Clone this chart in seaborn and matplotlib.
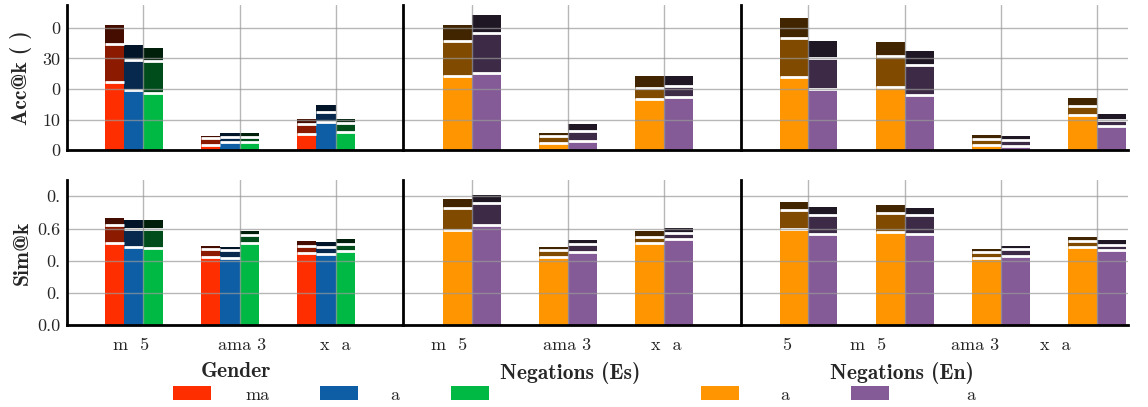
import pandas as pd
import seaborn as sns
import matplotlib.pyplot as plt
from matplotlib.patches import Patch
from matplotlib.transforms import ScaledTranslation

# Kategorien (so wie sie im Bild erscheinen)
gender_models = ['m  5', 'ama 3', 'x  a']
es_models = ['m  5', 'ama 3', 'x  a']
en_models = ['5', 'm  5', 'ama 3', 'x  a']
levels = ['1', '5', '10']

# Acc@k -- je Serie: [k=1], [k=5], [k=10]
acc_gender_red = [[22.3, 1.8, 5.4], [34.7, 3.9, 8.5], [41.0, 4.7, 10.1]]
acc_gender_blue = [[19.8, 2.6, 9.1], [29.6, 4.4, 12.4], [34.5, 5.5, 14.7]]
acc_gender_green = [[18.8, 2.7, 5.9], [29.3, 4.4, 8.8], [33.5, 5.5, 10.1]]
acc_es_orange = [[24.1, 2.2, 16.8], [35.7, 4.7, 20.3], [41.0, 5.5, 24.4]]
acc_es_purple = [[25.3, 3.0, 17.3], [38.4, 6.4, 21.1], [44.3, 8.5, 24.1]]
acc_en_orange = [[23.9, 20.8, 1.7, 11.5], [36.8, 30.8, 3.6, 14.4], [43.3, 35.5, 4.9, 16.9]]
acc_en_purple = [[20.1, 18.0, 1.4, 7.8], [30.2, 27.9, 3.4, 9.9], [35.8, 32.6, 4.7, 11.7]]

# Sim@k
sim_gender_red = [[0.509, 0.422, 0.447], [0.619, 0.472, 0.492], [0.665, 0.492, 0.524]]
sim_gender_blue = [[0.484, 0.420, 0.441], [0.598, 0.466, 0.484], [0.654, 0.486, 0.517]]
sim_gender_green = [[0.478, 0.513, 0.463], [0.600, 0.561, 0.505], [0.654, 0.586, 0.536]]
sim_es_orange = [[0.588, 0.426, 0.511], [0.727, 0.466, 0.548], [0.785, 0.486, 0.586]]
sim_es_purple = [[0.623, 0.453, 0.534], [0.758, 0.503, 0.573], [0.809, 0.530, 0.604]]
sim_en_orange = [[0.598, 0.578, 0.418, 0.488], [0.714, 0.696, 0.453, 0.522], [0.766, 0.747, 0.474, 0.548]]
sim_en_purple = [[0.569, 0.567, 0.430, 0.470], [0.683, 0.681, 0.472, 0.500], [0.735, 0.729, 0.492, 0.530]]

acc_ticks = [0, 10, 20, 30, 40]
acc_ticklabels = ['0', '10', '0', '30', '0']
sim_ticks = [0.0, 0.2, 0.4, 0.6, 0.8]
sim_ticklabels = ['0.0', '0.', '0.', '0.6', '0.']

legend_labels = ['ma', 'a', '', 'a', 'a']

# Farben je Serie: k=1 (hell), k=5 (mittel), k=10 (dunkel)
colors = {
    'red': ['#FF2E00', '#8C1A00', '#450D00'],
    'blue': ['#0E5EA6', '#06294D', '#021427'],
    'green': ['#00B945', '#004D1C', '#001F0B'],
    'orange': ['#FF9500', '#804B00', '#402500'],
    'purple': ['#845B97', '#3D2A46', '#1F1724'],
    'pad': ['#FFFFFF', '#FFFFFF', '#FFFFFF'],
}

sns.set_style('whitegrid')
plt.rcParams['font.family'] = ['cmr10', 'DejaVu Serif']
plt.rcParams['font.size'] = 13
plt.rcParams['axes.formatter.use_mathtext'] = True


def draw(ax, models, series, hue_order, width):
    rows = []
    for name, vals in series.items():
        for li, lvl in enumerate(levels):
            for m, v in zip(models, vals[li]):
                rows.append({'model': m, 'series': name, 'level': lvl, 'value': v})
    df = pd.DataFrame(rows)
    # von hinten (k=10) nach vorne (k=1) zeichnen
    for li in [2, 1, 0]:
        lvl = levels[li]
        pal = {h: colors[h][li] for h in hue_order}
        n0 = len(ax.patches)
        sns.barplot(data=df[df['level'] == lvl], x='model', y='value', hue='series',
                    order=models, hue_order=hue_order, palette=pal, width=width,
                    saturation=1, errorbar=None, legend=False, linewidth=0, ax=ax)
        if li < 2:
            # weiße Trennlinie oben auf den vorderen Balken
            for p in ax.patches[n0:]:
                if p.get_height() > 0:
                    ax.plot([p.get_x(), p.get_x() + p.get_width()], [p.get_height()] * 2,
                            color='white', lw=2, solid_capstyle='butt', zorder=2)


fig = plt.figure(figsize=(11.48, 4.07), dpi=100)
axes = fig.subplots(2, 3, sharey='row',
                    gridspec_kw=dict(width_ratios=[336, 338, 387], wspace=0, hspace=0.207))
fig.subplots_adjust(left=67 / 1148, right=1128 / 1148, top=1 - 5 / 407, bottom=1 - 325.3 / 407)

g_order = ['red', 'blue', 'green', 'pad']
n_order = ['orange', 'purple']
draw(axes[0, 0], gender_models, {'red': acc_gender_red, 'blue': acc_gender_blue, 'green': acc_gender_green}, g_order, 0.8)
draw(axes[0, 1], es_models, {'orange': acc_es_orange, 'purple': acc_es_purple}, n_order, 0.6)
draw(axes[0, 2], en_models, {'orange': acc_en_orange, 'purple': acc_en_purple}, n_order, 0.6)
draw(axes[1, 0], gender_models, {'red': sim_gender_red, 'blue': sim_gender_blue, 'green': sim_gender_green}, g_order, 0.8)
draw(axes[1, 1], es_models, {'orange': sim_es_orange, 'purple': sim_es_purple}, n_order, 0.6)
draw(axes[1, 2], en_models, {'orange': sim_en_orange, 'purple': sim_en_purple}, n_order, 0.6)

all_models = [gender_models, es_models, en_models]
xlims = [(-0.795, 2.70), (-0.716, 2.805), (-0.70, 3.32)]
label_shift = [[-12, 2, 0], [-23, -1, 3], [-22, -37, -26, -42]]
titles = ['Gender', 'Negations (Es)', 'Negations (En)']
title_x = [0.503, 0.494, 0.416]

for r in range(2):
    for c in range(3):
        ax = axes[r, c]
        ax.set_xticks(range(len(all_models[c])), labels=all_models[c])
        ax.set_xlim(*xlims[c])
        ax.set_axisbelow(False)
        ax.grid(True, color='#999999', alpha=0.7, lw=1)
        ax.xaxis.grid(True)
        for s in ['top', 'right']:
            ax.spines[s].set_visible(False)
        for s in ['left', 'bottom']:
            ax.spines[s].set_color('black')
            ax.spines[s].set_linewidth(2)
            ax.spines[s].set_zorder(3)
        ax.tick_params(length=0, pad=5)
        ax.set_xlabel('')
        ax.set_ylabel('')
        if r == 0:
            ax.set_ylim(0, 47.5)
            ax.tick_params(axis='x', labelbottom=False)
        else:
            ax.set_ylim(0, 0.9)
            ax.tick_params(axis='x', pad=9)
            for lab, dx in zip(ax.get_xticklabels(), label_shift[c]):
                lab.set_transform(lab.get_transform() + ScaledTranslation(dx / 100, 0, fig.dpi_scale_trans))
            ax.set_xlabel(titles[c], fontfamily='cmb10', fontsize=15.5)
            ax.xaxis.set_label_coords(title_x[c], -0.255)

axes[0, 0].set_yticks(acc_ticks, labels=acc_ticklabels)
axes[1, 0].set_yticks(sim_ticks, labels=sim_ticklabels)
axes[0, 0].set_ylim(0, 47.5)
axes[1, 0].set_ylim(0, 0.9)
axes[0, 0].set_ylabel('Acc@k ( )', fontfamily='cmb10', fontsize=15.5)
axes[1, 0].set_ylabel('Sim@k', fontfamily='cmb10', fontsize=15.5)
axes[0, 0].yaxis.set_label_coords(-0.105, 0.5)
axes[1, 0].yaxis.set_label_coords(-0.105, 0.5)

# Legende: einzelne Einträge an ihren Positionen
leg_colors = [colors[k][0] for k in ['red', 'blue', 'green', 'orange', 'purple']]
leg_x = [173, 320, 451, 701, 851]
leg_pad = [1.9, 1.8, 1.0, 2.3, 4.3]
for col, lab, x, pad in zip(leg_colors, legend_labels, leg_x, leg_pad):
    fig.legend(handles=[Patch(facecolor=col, edgecolor='none')], labels=[lab],
               loc='center left', bbox_to_anchor=(x / 1148, 1 - 394.5 / 407),
               frameon=False, borderpad=0, borderaxespad=0, handlelength=2.1,
               handleheight=0.8, handletextpad=pad, fontsize=13)

plt.savefig('out.png', dpi=100)
